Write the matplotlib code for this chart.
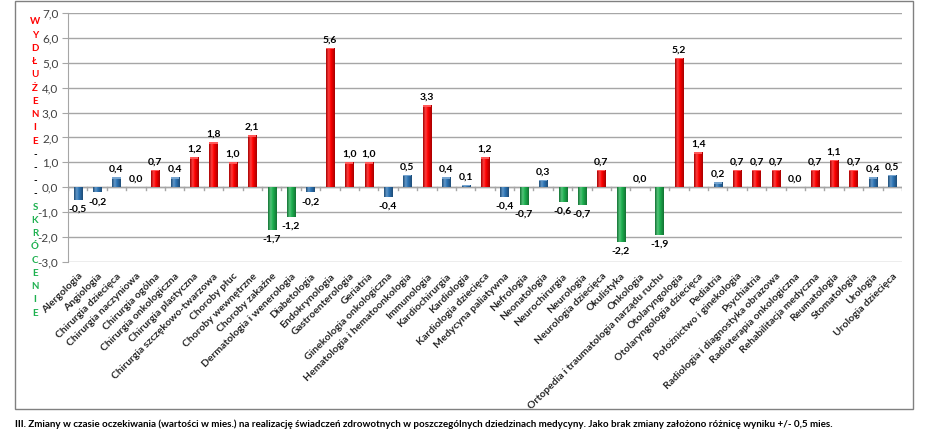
import numpy as np
import matplotlib
matplotlib.use("Agg")
import matplotlib.pyplot as plt
from matplotlib.colors import LinearSegmentedColormap, to_rgb
from matplotlib.patches import Rectangle

categories = [
    "Alergologia", "Angiologia", "Chirurgia dziecięca", "Chirurgia naczyniowa",
    "Chirurgia ogólna", "Chirurgia onkologiczna", "Chirurgia plastyczna",
    "Chirurgia szczękowo-twarzowa", "Choroby płuc", "Choroby wewnętrzne",
    "Choroby zakaźne", "Dermatologia i wenerologia", "Diabetologia",
    "Endokrynologia", "Gastroenterologia", "Geriatria", "Ginekologia onkologiczna",
    "Hematologia i hematoonkologia", "Immunologia", "Kardiochirurgia",
    "Kardiologia", "Kardiologia dziecięca", "Medycyna paliatywna", "Nefrologia",
    "Neonatologia", "Neurochirurgia", "Neurologia", "Neurologia dziecięca",
    "Okulistyka", "Onkologia", "Ortopedia i traumatologia narządu ruchu",
    "Otolaryngologia", "Otolaryngologia dziecięca", "Pediatria",
    "Położnictwo i ginekologia", "Psychiatria", "Radiologia i diagnostyka obrazowa",
    "Radioterapia onkologiczna", "Rehabilitacja medyczna", "Reumatologia",
    "Stomatologia", "Urologia", "Urologia dziecięca",
]
values = [
    -0.5, -0.2, 0.4, 0.0, 0.7, 0.4, 1.2, 1.8, 1.0, 2.1,
    -1.7, -1.2, -0.2, 5.6, 1.0, 1.0, -0.4, 0.5, 3.3, 0.4,
    0.1, 1.2, -0.4, -0.7, 0.3, -0.6, -0.7, 0.7, -2.2, 0.0,
    -1.9, 5.2, 1.4, 0.2, 0.7, 0.7, 0.7, 0.0, 0.7, 1.1,
    0.7, 0.4, 0.5,
]
yticks = [7, 6, 5, 4, 3, 2, 1, 0, -1, -2, -3]
threshold = 0.5
caption = ("III. Zmiany w czasie oczekiwania (wartości w mies.) na realizację świadczeń "
           "zdrowotnych w poszczególnych dziedzinach medycyny. Jako brak zmiany założono "
           "różnicę wyniku +/- 0,5 mies.")
title_up = "WYDŁUŻENIE"
title_mid = "----"
title_down = "SKRÓCENIE"

RED, GREEN, BLUE = "#FF0000", "#1DB04F", "#2E75B6"
FONT = ["Lato", "DejaVu Sans"]

def color_for(v):
    if v > threshold:
        return RED
    if v < -threshold:
        return GREEN
    return BLUE

def shade(c, f):
    r, g, b = to_rgb(c)
    if f < 0:
        return (r * (1 + f), g * (1 + f), b * (1 + f))
    return (r + (1 - r) * f, g + (1 - g) * f, b + (1 - b) * f)

W, H = 937, 440
fig = plt.figure(figsize=(W / 100, H / 100), dpi=100)
ax = fig.add_axes([68 / W, 1 - 262 / H, (902 - 68) / W, (262 - 13) / H])

x = np.arange(len(categories))
cols = [color_for(v) for v in values]
bars = ax.bar(x, values, width=0.42, color=cols, zorder=3, linewidth=0)

ax.set_xlim(-0.5, len(categories) - 0.5)
ax.set_ylim(-3, 7)

# gradient shading for cylinder-like look
for b, c in zip(bars, cols):
    h = b.get_height()
    h_draw = 0.03 if h == 0 else h
    x0 = b.get_x()
    w = b.get_width()
    cmap = LinearSegmentedColormap.from_list(
        "g", [(0, shade(c, -0.35)), (0.3, shade(c, 0.25)), (0.55, c), (1, shade(c, -0.35))])
    grad = np.linspace(0, 1, 64).reshape(1, -1)
    y0, y1 = (0, h_draw) if h_draw >= 0 else (h_draw, 0)
    im = ax.imshow(grad, cmap=cmap, aspect="auto", extent=(x0, x0 + w, y0, y1),
                   zorder=4, interpolation="bilinear")
    clip = Rectangle((x0, y0), w, y1 - y0, transform=ax.transData)
    im.set_clip_path(clip)
    if h > 0:
        ax.add_patch(Rectangle((x0, y1 - 0.06), w, 0.06, color=shade(c, 0.35), zorder=5, lw=0))
    b.set_visible(False)

ax.set_xlim(-0.5, len(categories) - 0.5)
ax.set_ylim(-3, 7)

ax.set_yticks(yticks)
ax.set_yticklabels([f"{t:.1f}".replace(".", ",") for t in yticks],
                   fontsize=8.5, color="#404040", family=FONT)
ax.yaxis.grid(True, color="#A6A6A6", linewidth=1.0, zorder=0)
ax.set_axisbelow(True)
for s in ["top", "right", "bottom"]:
    ax.spines[s].set_visible(False)
ax.spines["left"].set_color("#A6A6A6")
ax.tick_params(axis="y", length=4, color="#A6A6A6", pad=3)
ax.tick_params(axis="x", length=0, pad=7)

ax.axhline(0, color="#A6A6A6", lw=1.0, zorder=2)
for bnd in np.arange(len(categories) + 1) - 0.5:
    ax.plot([bnd, bnd], [0, -0.1], color="#A6A6A6", lw=1.0, zorder=2)

ax.set_xticks(x)
ax.set_xticklabels(categories, rotation=45, ha="right", rotation_mode="anchor",
                   fontsize=7.5, fontweight="bold", color="#262626", family=FONT)

for xi, v in zip(x, values):
    lab = f"{v:.1f}".replace(".", ",")
    if v >= 0:
        ax.annotate(lab, (xi, v), xytext=(0, 2.5), textcoords="offset points",
                    ha="center", va="bottom", fontsize=7.5, fontweight="bold", family=FONT)
    else:
        ax.annotate(lab, (xi, v), xytext=(0, -3.5), textcoords="offset points",
                    ha="center", va="top", fontsize=7.5, fontweight="bold", family=FONT)

letters = [(ch, RED) for ch in title_up] + [(ch, "black") for ch in title_mid] + \
          [(ch, GREEN) for ch in title_down]
ys = np.linspace(1 - 22 / H, 1 - 313 / H, len(letters))
for (ch, c), yy in zip(letters, ys):
    fig.text(35 / W, yy, ch, color=c, fontsize=7, fontweight="bold",
             ha="center", va="center", family=FONT)

fig.add_artist(Rectangle((15 / W, 1 - 409 / H), (913 - 15) / W, (409 - 1) / H,
                         transform=fig.transFigure, fill=False, edgecolor="#808080", lw=1.0))

cap = fig.text(15 / W, 1 - 424 / H, caption, fontsize=7.5, fontweight="bold",
               ha="left", va="center", family=FONT)
r = fig.canvas.get_renderer()
wpx = cap.get_window_extent(renderer=r).width
target = 837 - 15
cap.set_fontsize(7.5 * target / wpx)

fig.savefig("out.png", dpi=100)
